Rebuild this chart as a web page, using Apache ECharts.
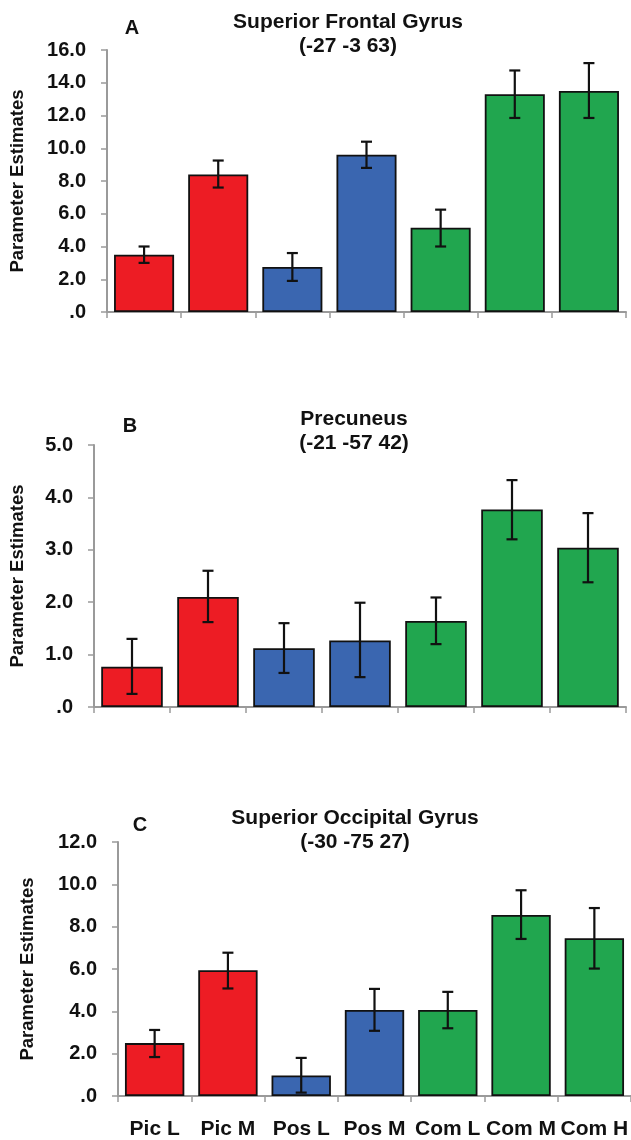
<!DOCTYPE html>
<html>
<head>
<meta charset="utf-8">
<script src="https://cdn.jsdelivr.net/npm/echarts@6/dist/echarts.min.js"></script>
<style>
  html, body { margin: 0; padding: 0; background: #fff; }
  #chart { width: 631px; height: 1140px; }
</style>
</head>
<body>
<div id="chart"></div>
<script>
// conditions on the x axis
const categories = ['Pic L', 'Pic M', 'Pos L', 'Pos M', 'Com L', 'Com M', 'Com H'];

// A: Superior Frontal Gyrus (-27 -3 63)
const sfgMean = [3.5, 8.4, 2.75, 9.6, 5.15, 13.3, 13.5];
const sfgLow = [3.0, 7.6, 1.9, 8.8, 4.0, 11.85, 11.85];
const sfgHigh = [4.0, 9.25, 3.6, 10.4, 6.25, 14.75, 15.2];

// B: Precuneus (-21 -57 42)
const pcuMean = [0.77, 2.1, 1.12, 1.27, 1.64, 3.77, 3.04];
const pcuLow = [0.25, 1.62, 0.65, 0.57, 1.2, 3.2, 2.38];
const pcuHigh = [1.3, 2.6, 1.6, 1.99, 2.09, 4.33, 3.7];

// C: Superior Occipital Gyrus (-30 -75 27)
const sogMean = [2.5, 5.94, 0.97, 4.06, 4.06, 8.55, 7.45];
const sogLow = [1.84, 5.08, 0.16, 3.08, 3.2, 7.42, 6.02];
const sogHigh = [3.12, 6.77, 1.8, 5.06, 4.92, 9.72, 8.88];

const barColors = ['#ed1c24', '#ed1c24', '#3a66b0', '#3a66b0', '#21a64f', '#21a64f', '#21a64f'];
const font = '"Liberation Sans", Arial, sans-serif';
const axisGrey = '#9a9a9a';

const panels = [
  { letter: 'A', title: 'Superior Frontal Gyrus', coords: '(-27 -3 63)', mean: sfgMean, low: sfgLow, high: sfgHigh,
    max: 16, interval: 2, grid: { left: 104, top: 50, width: 522, height: 262 },
    titlePos: [348, 10], letterPos: [132, 18], nameGap: 80, showX: false },
  { letter: 'B', title: 'Precuneus', coords: '(-21 -57 42)', mean: pcuMean, low: pcuLow, high: pcuHigh,
    max: 5, interval: 1, grid: { left: 92, top: 445, width: 534, height: 262 },
    titlePos: [354, 407], letterPos: [130, 416], nameGap: 67, showX: false },
  { letter: 'C', title: 'Superior Occipital Gyrus', coords: '(-30 -75 27)', mean: sogMean, low: sogLow, high: sogHigh,
    max: 12, interval: 2, grid: { left: 118, top: 842, width: 518, height: 254 },
    titlePos: [355, 806], letterPos: [140, 815], nameGap: 81, showX: true }
];

const chart = echarts.init(document.getElementById('chart'));

const option = {
  animation: false,
  backgroundColor: '#fff',
  title: [],
  grid: [],
  xAxis: [],
  yAxis: [],
  series: []
};

panels.forEach(function (p, i) {
  option.title.push({
    text: p.title + '\n' + p.coords,
    left: p.titlePos[0], top: p.titlePos[1], textAlign: 'center', padding: 0,
    textStyle: { fontFamily: font, fontWeight: 'bold', fontSize: 21, lineHeight: 24, color: '#111' }
  });
  option.title.push({
    text: p.letter,
    left: p.letterPos[0], top: p.letterPos[1], textAlign: 'center', padding: 0,
    textStyle: { fontFamily: font, fontWeight: 'bold', fontSize: 20, lineHeight: 20, color: '#111' }
  });
  option.grid.push(p.grid);
  option.xAxis.push({
    type: 'category',
    gridIndex: i,
    data: categories,
    axisLine: { lineStyle: { color: axisGrey, width: 2 } },
    axisTick: { show: true, length: 6, lineStyle: { color: axisGrey, width: 1.5 } },
    axisLabel: {
      show: p.showX, margin: 23, interval: 0,
      fontFamily: font, fontWeight: 'bold', fontSize: 21, color: '#111'
    }
  });
  option.yAxis.push({
    type: 'value',
    gridIndex: i,
    min: 0, max: p.max, interval: p.interval,
    name: 'Parameter Estimates',
    nameLocation: 'middle',
    nameRotate: 90,
    nameGap: p.nameGap,
    nameTextStyle: { fontFamily: font, fontWeight: 'bold', fontSize: 18.5, color: '#111' },
    axisLine: { show: true, lineStyle: { color: axisGrey, width: 2 } },
    axisTick: { show: true, length: 6, lineStyle: { color: axisGrey, width: 1.5 } },
    splitLine: { show: false },
    axisLabel: {
      margin: 21, fontFamily: font, fontWeight: 'bold', fontSize: 20, color: '#111',
      formatter: function (v) { return v === 0 ? '.0' : v.toFixed(1); }
    }
  });
  option.series.push({
    type: 'bar',
    xAxisIndex: i, yAxisIndex: i,
    barCategoryGap: '19%',
    data: p.mean.map(function (v, k) {
      return { value: v, itemStyle: { color: barColors[k] } };
    }),
    itemStyle: { borderColor: '#111', borderWidth: 1.8 },
    z: 2
  });
  option.series.push({
    type: 'custom',
    xAxisIndex: i, yAxisIndex: i,
    data: p.low.map(function (lo, k) { return [k, lo, p.high[k]]; }),
    renderItem: function (params, api) {
      const lo = api.coord([api.value(0), api.value(1)]);
      const hi = api.coord([api.value(0), api.value(2)]);
      const cap = 5.5;
      const style = { stroke: '#111', lineWidth: 2.2 };
      return {
        type: 'group',
        children: [
          { type: 'line', shape: { x1: lo[0], y1: lo[1], x2: hi[0], y2: hi[1] }, style: style },
          { type: 'line', shape: { x1: lo[0] - cap, y1: lo[1], x2: lo[0] + cap, y2: lo[1] }, style: style },
          { type: 'line', shape: { x1: hi[0] - cap, y1: hi[1], x2: hi[0] + cap, y2: hi[1] }, style: style }
        ]
      };
    },
    z: 5
  });
});

chart.setOption(option);
window.addEventListener('resize', function () {
  chart.resize();
});
</script>
</body>
</html>
